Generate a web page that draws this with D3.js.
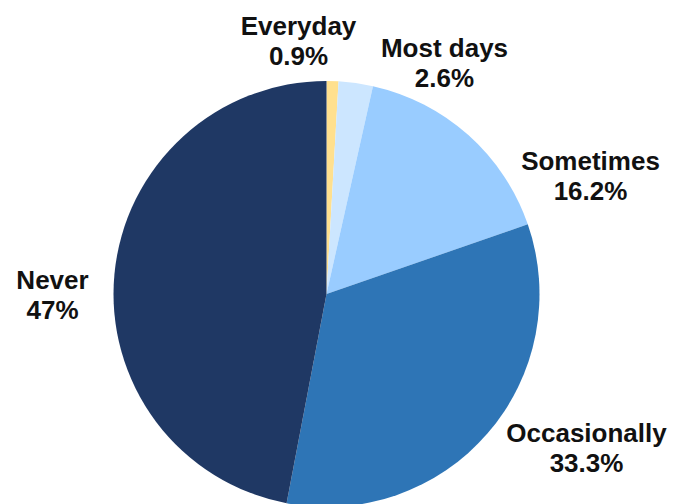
<!DOCTYPE html>
<html>
<head>
<meta charset="utf-8">
<script src="https://cdn.jsdelivr.net/npm/d3@7"></script>
<style>
  html, body { margin: 0; padding: 0; background: #fff; }
  svg { display: block; }
  text { font-family: "Liberation Sans", Arial, sans-serif; font-weight: bold; fill: #111; }
</style>
</head>
<body>
<svg id="chart" width="674" height="504"></svg>
<script>
// Share of respondents by frequency (clockwise from 12 o'clock)
const categories = ["Everyday", "Most days", "Sometimes", "Occasionally", "Never"];
const values = [0.9, 2.6, 16.2, 33.3, 47];
const valueLabels = ["0.9%", "2.6%", "16.2%", "33.3%", "47%"];
const colors = ["#FFE08E", "#CCE6FF", "#99CCFF", "#2E75B6", "#1F3864"];

// Label anchor offsets from the pie centre (x centre, baseline of first line)
const labelOffsets = [[-28, -259], [118, -237], [264, -124], [260, 148], [-274, -5]];

const width = 674, height = 504;
const cx = 326.5, cy = 294, radius = 213;

const svg = d3.select("#chart");
const g = svg.append("g").attr("transform", `translate(${cx},${cy})`);

const data = categories.map((c, i) => ({ name: c, value: values[i], label: valueLabels[i], color: colors[i], off: labelOffsets[i] }));

const pie = d3.pie().value(d => d.value).sort(null);
const arc = d3.arc().innerRadius(0).outerRadius(radius);

g.selectAll("path.slice")
  .data(pie(data))
  .join("path")
  .attr("class", "slice")
  .attr("d", arc)
  .attr("fill", d => d.data.color);

const labels = g.selectAll("text.lbl")
  .data(data)
  .join("text")
  .attr("class", "lbl")
  .attr("text-anchor", "middle")
  .style("font-size", "26px");

labels.append("tspan")
  .attr("x", d => d.off[0])
  .attr("y", d => d.off[1])
  .text(d => d.name);

labels.append("tspan")
  .attr("x", d => d.off[0])
  .attr("y", d => d.off[1] + 30)
  .text(d => d.label);
</script>
</body>
</html>
